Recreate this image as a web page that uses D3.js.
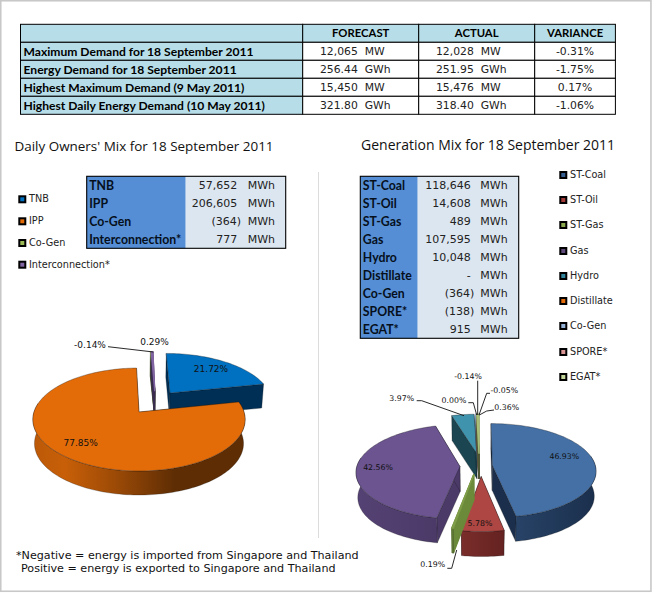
<!DOCTYPE html>
<html><head><meta charset="utf-8">
<script src="https://cdn.jsdelivr.net/npm/d3@7/dist/d3.min.js"></script>
<style>html,body{margin:0;padding:0;background:#fff}svg{display:block}</style>
</head><body><svg id="c" width="652" height="593"></svg>
<script>
// ---------- data ----------
const summaryHeaders = ["", "FORECAST", "ACTUAL", "VARIANCE"];
const summaryLabels = ["Maximum Demand for 18 September 2011","Energy Demand for 18 September 2011","Highest Maximum Demand (9 May 2011)","Highest Daily Energy Demand (10 May 2011)"];
const summaryForecast = ["12,065  MW","256.44  GWh","15,450  MW","321.80  GWh"];
const summaryActual = ["12,028  MW","251.95  GWh","15,476  MW","318.40  GWh"];
const summaryVariance = ["-0.31%","-1.75%","0.17%","-1.06%"];

const ownerNames = ["TNB","IPP","Co-Gen","Interconnection*"];
const ownerMWh = ["57,652","206,605","(364)","777"];
const ownerPct = [21.72,77.85,-0.14,0.29];
const ownerTop = ["#0070c0","#e36c09","#9bbb59","#8064a2"];
const ownerSide = ["#002f55","#5e2d04","#4a5a2a","#3a2c4f"];

const genNames = ["ST-Coal","ST-Oil","ST-Gas","Gas","Hydro","Distillate","Co-Gen","SPORE*","EGAT*"];
const genMWh = ["118,646","14,608","489","107,595","10,048","-","(364)","(138)","915"];
const genPct = [46.93,5.78,0.19,42.56,3.97,0.00,-0.14,-0.05,0.36];
const genTop = ["#4470a6","#ae4743","#7f9c48","#6b5490","#3f93ac","#e46c0a","#95b3d7","#d99694","#a8bf78"];
const genSide = ["#1b2f4c","#642220","#6b8a3a","#4b3a68","#1b4551","#6a3205","#44536a","#6a4544","#4f5a36"];
const genLegendColors = ["#366092","#a33b38","#8cab4f","#604a7b","#31859c","#e46c0a","#95b3d7","#d99694","#c3d69b"];

const title1 = "Daily Owners' Mix for 18 September 2011";
const title2 = "Generation Mix for 18 September 2011";
const foot1 = "*Negative = energy is imported from Singapore and Thailand";
const foot2 = "Positive = energy is exported to Singapore and Thailand";

// ---------- helpers ----------
const svg = d3.select("#c");
const defs = svg.append("defs");
const TXT = "'Open Sans',sans-serif", TAB = "Lato,sans-serif", PCT = "'DejaVu Sans',sans-serif";
const fmtPct = v => v.toFixed(2) + "%";

function text(x, y, s, o = {}) {
  return svg.append("text").attr("x", x).attr("y", y).attr("dy", ".35em")
    .attr("text-anchor", o.anchor || "start")
    .attr("font-family", o.family || TXT).attr("font-size", o.size || 11)
    .attr("font-weight", o.weight || 400).attr("fill", o.fill || "#111")
    .style("white-space", "pre").text(s);
}

// frame and divider
svg.append("rect").attr("x", .75).attr("y", .75).attr("width", 650.2).attr("height", 590.5)
  .attr("fill", "none").attr("stroke", "#c8c8c8").attr("stroke-width", 1.6);
svg.append("line").attr("x1", 318.5).attr("x2", 318.5).attr("y1", 172).attr("y2", 538).attr("stroke", "#dcdcdc");

// ---------- summary table ----------
const colX = d3.scaleOrdinal().domain([0,1,2,3]).range([20.5,302.7,418.7,534.7]);
const colEnd = 615.4;
const rowY = d3.scaleLinear().domain([0,5]).range([24.3,114.3]);
[0,1,2,3].forEach(c => {
  const x0 = colX(c), x1 = c < 3 ? colX(c+1) : colEnd;
  d3.range(5).forEach(r => {
    const blue = r === 0 || c === 0;
    svg.append("rect").attr("x", x0).attr("y", rowY(r)).attr("width", x1-x0).attr("height", rowY(r+1)-rowY(r))
      .attr("fill", blue ? "#b7dee8" : "#fff").attr("stroke", "#000").attr("stroke-width", 1);
  });
});
summaryHeaders.forEach((h,i) => { if (h) {
  const x1 = i < 3 ? colX(i+1) : colEnd;
  text((colX(i)+x1)/2, rowY(.5), h, {anchor:"middle", family:TAB, size:11.3, weight:700, fill:"#000"});
}});
summaryLabels.forEach((s,i) => {
  text(23.5, rowY(i+1.5), s, {family:TAB, size:12.1, weight:700, fill:"#000"});
  text(320, rowY(i+1.5), summaryForecast[i], {family:PCT, size:10.8, fill:"#222"});
  text(436, rowY(i+1.5), summaryActual[i], {family:PCT, size:10.8, fill:"#222"});
  text(575, rowY(i+1.5), summaryVariance[i], {anchor:"middle", family:PCT, size:10.8, fill:"#222"});
});

text(14.5, 146, title1, {size:13.45, fill:"#111"});
text(361, 145.5, title2, {size:14, fill:"#111"});

// ---------- small tables ----------
function miniTable(x0, xSplit, x1, y0, names, vals, numEnd, unitX) {
  const y = d3.scaleLinear().domain([0,1]).range([y0, y0+18]);
  const n = names.length;
  svg.append("rect").attr("x",x0).attr("y",y0).attr("width",xSplit-x0).attr("height",18*n).attr("fill","#558ed5");
  svg.append("rect").attr("x",xSplit).attr("y",y0).attr("width",x1-xSplit).attr("height",18*n).attr("fill","#dce6f1");
  svg.append("rect").attr("x",x0).attr("y",y0).attr("width",x1-x0).attr("height",18*n).attr("fill","none").attr("stroke","#000").attr("stroke-width",1.1);
  names.forEach((s,i) => {
    text(x0+2.5, y(i+.5), s, {family:TAB, size:12.3, weight:700, fill:"#06101c"});
    const paren = vals[i].startsWith("(");
    text(numEnd + (paren?3.7:0), y(i+.5), vals[i], {anchor:"end", family:PCT, size:11, fill:"#222"});
    text(unitX, y(i+.5), "MWh", {family:PCT, size:11, fill:"#222"});
  });
}
miniTable(86.7,185.7,285.7,176.3,ownerNames,ownerMWh,237.3,247.7);
miniTable(360.3,417.7,518.7,176.3,genNames,genMWh,470.7,480.3);

// ---------- legends ----------
function legend(x, ys, names, colors, size) {
  names.forEach((s,i) => {
    svg.append("rect").attr("x",x+1).attr("y",ys[i]-3).attr("width",6).attr("height",6)
      .attr("fill",colors[i]).attr("stroke","#000").attr("stroke-width",2);
    text(x+10.7, ys[i]-.5, s, {size, family:PCT, fill:"#222"});
  });
}
legend(18.3,[199.3,221.3,243,264.7],ownerNames,ownerTop,9.7);
legend(559.3,[175,200,225,251,276,301,326,352,377],genNames,genLegendColors,9.7);

// ---------- 3D pies ----------
let gid = 0;
function pie3d(pct, top, side, geo, explode) {
  const arcs = d3.pie().value(d => Math.abs(d)).sort(null)(pct);
  const project = (u, v, z) => {
    const w = 1 + geo.k * v;
    return [geo.cx + geo.b * u / w * (1 - .015*z), geo.cy - geo.a * v / w + geo.depth * z];
  };
  const line = d3.line();
  const slices = arcs.map((a,i) => ({a, i, ex: explode(i), mid:(a.startAngle+a.endAngle)/2}));
  const depthKey = p => Math.round((Math.cos(p.mid)+p.ex[1])*10);
  slices.sort((p,q) => (depthKey(q)-depthKey(p)) || (p.i-q.i));
  slices.forEach(s => {
    if (s.a.endAngle - s.a.startAngle <= 0) return;
    const thin = s.a.endAngle - s.a.startAngle < .06;
    const [eu,ev] = s.ex;
    const n = Math.max(2, Math.ceil((s.a.endAngle - s.a.startAngle) / .03));
    const ang = d3.range(n+1).map(j => s.a.startAngle + (s.a.endAngle-s.a.startAngle)*j/n);
    const P = (t,z) => project(eu+Math.sin(t), ev+Math.cos(t), z);
    const A = z => project(eu,ev,z);
    const g = svg.append("g");
    // radial walls
    [s.a.startAngle, s.a.endAngle].forEach(t => {
      g.append("path").attr("d", line([A(0),P(t,0),P(t,1),A(1)])+"Z")
        .attr("fill", side[s.i]).attr("stroke", thin ? side[s.i] : "#111")
        .attr("stroke-opacity", thin ? 1 : .5).attr("stroke-width", thin ? 1.2 : .5);
    });
    // outer rim (front part)
    const front = ang.filter(t => Math.cos(t) < .2);
    if (front.length > 1) {
      const id = "g" + (gid++);
      const lg = defs.append("linearGradient").attr("id",id);
      const lite = d3.interpolateRgb(side[s.i], top[s.i])(.8);
      const stops = front[0] < Math.PI/2+.4 && front[front.length-1] > Math.PI
        ? [[0,side[s.i]],[.33,side[s.i]],[.6,d3.interpolateRgb(side[s.i],top[s.i])(.45)],[.85,lite],[1,d3.interpolateRgb(side[s.i],top[s.i])(.7)]]
        : [[0,side[s.i]],[1,d3.interpolateRgb(side[s.i],top[s.i])(.3)]];
      // gradient runs left to right in screen space
      stops.slice().reverse().forEach(([o,c]) => lg.append("stop").attr("offset",(1-o)).attr("stop-color",c));
      g.append("path").attr("d", line(front.map(t=>P(t,0)).concat(front.slice().reverse().map(t=>P(t,1))))+"Z")
        .attr("fill",`url(#${id})`).attr("stroke","#111").attr("stroke-opacity",.5).attr("stroke-width",.5);
    }
    // top face
    g.append("path").attr("d", line([A(0)].concat(ang.map(t=>P(t,0))))+"Z")
      .attr("fill", top[s.i]).attr("stroke", thin ? top[s.i] : "#1a1a1a")
      .attr("stroke-opacity", thin ? 1 : .65).attr("stroke-width", thin ? 1.4 : .5);
  });
}

const E_left = [[.312,.399],[0,0],[.16,.44],[.16,.44]];
pie3d(ownerPct, ownerTop, ownerSide, {cx:139,cy:412,a:50.4,b:105,k:.1456,depth:24}, i => E_left[i]);

const E_right = [[.14,.014],[.03,-.22],[-.04,-.18],[-.175,-.01],[-.01,.27],[.01,.27],[.01,.27],[.01,.27],[.01,.27]];
pie3d(genPct, genTop, genSide, {cx:478,cy:466,a:46.5,b:103,k:.11,depth:25}, i => E_right[i]);

// ---------- leaders ----------
function leader(pts) {
  svg.append("path").attr("d", d3.line()(pts)).attr("fill","none").attr("stroke","#111").attr("stroke-width",.9);
}
[
 [[108,346.7],[153.5,352]],
 [[416.7,400.7],[421.7,400.7],[464,415.7]],
 [[468.3,402.7],[473.3,402.7],[476.7,415]],
 [[477.7,380.7],[477.7,415]],
 [[490,393.3],[486.7,393.3],[479,415]],
 [[494,410],[486.7,411],[479.3,415]],
 [[447.3,568.3],[451.7,568.3],[456.7,550]]
].forEach(leader);

// ---------- percentage labels ----------
const leftPos = [[211,369],[80.7,443],[90,344.7],[154.5,342.3]];
ownerPct.forEach((v,i) => text(leftPos[i][0],leftPos[i][1],fmtPct(v),{anchor:"middle",family:PCT,size:9,fill:"#111"}));
const rightPos = [[564.3,456],[480,523],[432.7,564.7],[378,467],[401.7,398],[454,400],[468,376],[504.3,390.7],[506.7,407]];
genPct.forEach((v,i) => text(rightPos[i][0],rightPos[i][1],fmtPct(v),{anchor:"middle",family:PCT,size:7.8,fill:"#111"}));

// ---------- footnote ----------
text(16,555,foot1,{size:11.15,family:PCT,fill:"#111"});
text(21,568.5,foot2,{size:11.15,family:PCT,fill:"#111"});
</script></body></html>
